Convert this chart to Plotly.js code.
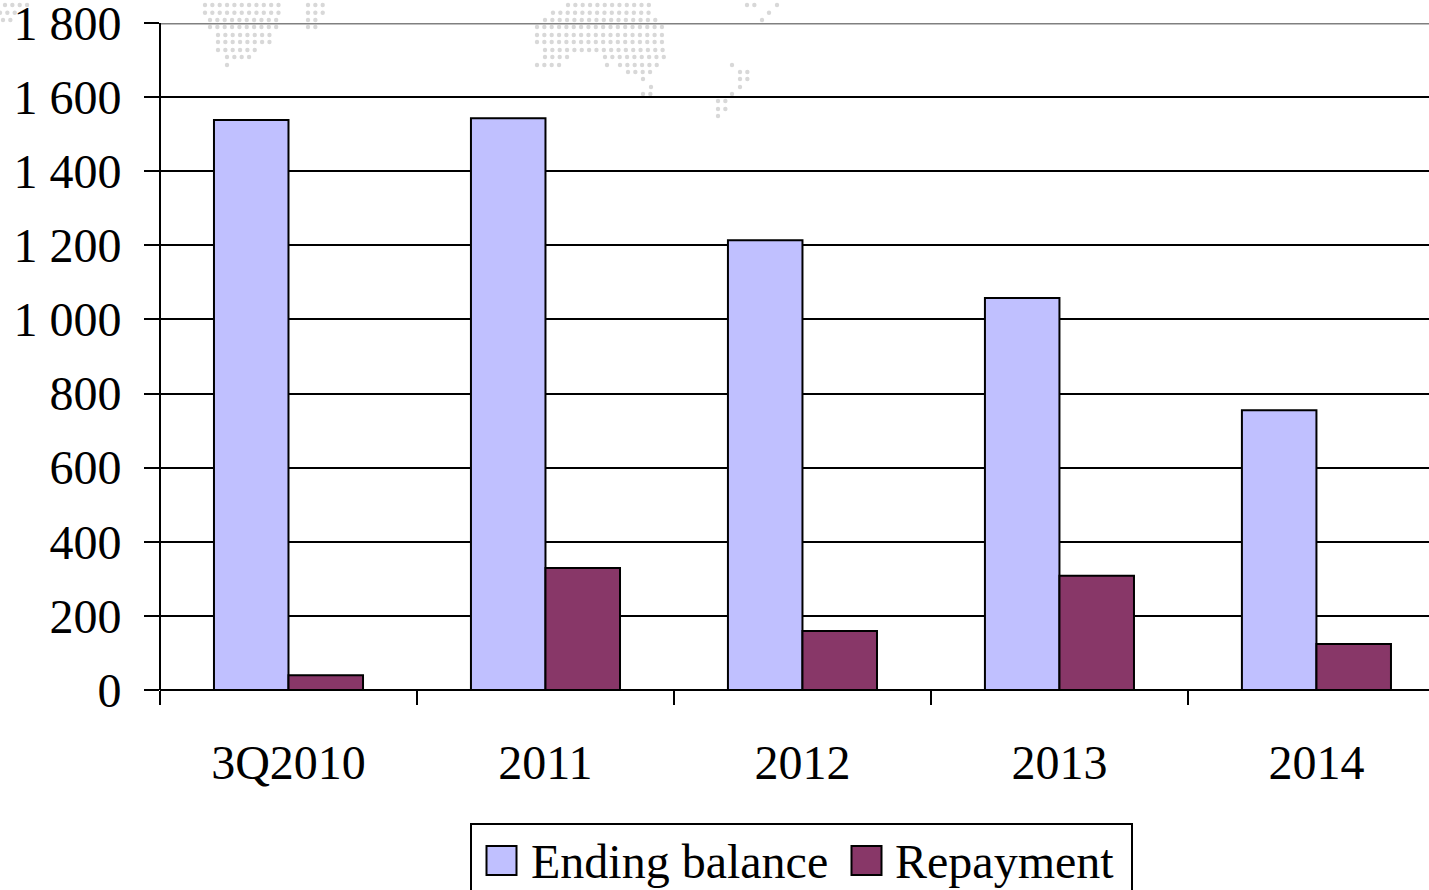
<!DOCTYPE html>
<html><head><meta charset="utf-8">
<script src="https://cdn.plot.ly/plotly-3.0.1.min.js"></script>
<style>html,body{margin:0;padding:0;background:#fff;overflow:hidden;width:1429px;height:890px}#c{width:1429px;height:930px}</style>
</head><body><div id="c"></div>
<script>
const categories = ["3Q2010","2011","2012","2013","2014"];
const endingBalance = [1538,1543,1214,1058,755];
const repayment = [40,329,159,308,124];
const yTicks = [0,200,400,600,800,1000,1200,1400,1600,1800];
const yTickLabels = ["0","200","400","600","800","1 000","1 200","1 400","1 600","1 800"];

// Decorative dotted world map behind the plot: [row y, x from, x to]
const mapRows = [
 [5,205,282],[12.7,205,282],[20,210,282],[27,210,282],[35,218,275],[42,218,275],[50,218,260],[57,227,252],[65,227,227],
 [5,308,325],[12.7,308,325],[20,308,318],[27,308,318],
 [5,568,653],[12.7,553,653],[20,545,660],[27,537,667],[35,537,667],[42,537,667],[50,545,667],
 [57,545,572],[57,605,667],[65,537,563],[65,607,607],[65,620,660],[72,628,652],[79,643,643],[87,651,651],[94,643,652],
 [5,747,755],[5,777,777],[12.7,769,769],[20,762,762],[65,732,732],[72,740,747],[79,740,747],[87,740,740],[94,732,732],
 [101,718,732],[109,718,725],[116,718,718],
 [5,5,30],[12.7,0,15],[20,3,15]
];
const dots = [];
mapRows.forEach(([y,a,b])=>{ for(let x=a;x<=b+0.5;x+=7.35) dots.push(`<circle cx="${x}" cy="${y}" r="2.2"/>`); });
const mapSvg = `<svg xmlns="http://www.w3.org/2000/svg" width="1429" height="890" viewBox="0 0 1429 890"><g fill="#d8d8d8">${dots.join("")}</g></svg>`;

const font = {family:"'Liberation Serif', serif", size:48, color:"#000"};
const traces = [
 {type:"bar", name:"Ending balance", x:categories, y:endingBalance,
  marker:{color:"#c0c0ff", line:{color:"#000", width:2}}},
 {type:"bar", name:"Repayment", x:categories, y:repayment,
  marker:{color:"#883768", line:{color:"#000", width:2}}}
];
const L=160,R=0,T=23,B=930-690,W=1429,H=930;
const layout = {
 width:W, height:H, margin:{l:L,r:R,t:T,b:B,autoexpand:false},
 paper_bgcolor:"#fff", plot_bgcolor:"rgba(0,0,0,0)", font,
 barmode:"group", bargap:0.42, bargroupgap:0,
 showlegend:true,
 legend:{orientation:"h", x:(470-L)/(W-L), xanchor:"left", y:(690-823)/667, yanchor:"top",
   bordercolor:"#000", borderwidth:1.6, bgcolor:"#fff", font, itemclick:false, itemdoubleclick:false},
 xaxis:{type:"category", categoryorder:"array", categoryarray:categories, range:[-0.5,4.438],
   tickson:"boundaries", ticks:"outside", ticklen:14, tickwidth:1.6, tickcolor:"#000",
   showline:false, showgrid:false, zeroline:false, fixedrange:true,
   tickfont:font, ticklabelstandoff:40},
 yaxis:{range:[0,1800], tickmode:"array", tickvals:yTicks, ticktext:yTickLabels,
   ticks:"outside", ticklen:15, tickwidth:1.6, tickcolor:"#000",
   showline:false, showgrid:true, gridcolor:"#000", gridwidth:1.6,
   zeroline:true, zerolinecolor:"#000", zerolinewidth:2, fixedrange:true,
   tickfont:font, ticklabelstandoff:13, ticklabeloverflow:"allow"},
 shapes:[
  {type:"line", xref:"paper", x0:0, x1:1, yref:"y", y0:1800, y1:1800, line:{color:"#808080", width:3}, layer:"above"},
  {type:"line", xref:"paper", x0:0, x1:0, yref:"y", y0:0, y1:1800, line:{color:"#000", width:2}, layer:"above"}
 ],
 images:[{source:"data:image/svg+xml;utf8,"+encodeURIComponent(mapSvg), xref:"paper", yref:"paper",
   x:-L/(W-L), y:690/667, sizex:W/(W-L), sizey:890/667, xanchor:"left", yanchor:"top", sizing:"stretch", layer:"below"}]
};
Plotly.newPlot("c", traces, layout, {displayModeBar:false}).then(()=>{
  // Tune the native legend to the reference's proportions
  const root = document.querySelector(".legend");
  root.querySelector(".bg").setAttribute("width", 661);
  root.querySelector(".scrollbox").removeAttribute("clip-path");
  root.removeAttribute("clip-path");
  const textX = [531, 895], symbolCx = [501.5, 866.5], textCy = 861, symbolCy = 860.5;
  root.querySelectorAll(".traces").forEach((tr,i)=>{
    const t = tr.querySelector("text"), pts = tr.querySelector(".legendpoints path");
    const tb = t.getBoundingClientRect();
    const m = /translate\(([-\d.]+)[ ,]+([-\d.]+)\)/.exec(tr.getAttribute("transform"));
    const nx = +m[1] + (textX[i]-tb.left), ny = +m[2] + (textCy-(tb.top+tb.height/2));
    tr.setAttribute("transform", `translate(${nx},${ny})`);
    pts.setAttribute("d","M15,14.5H-15V-14.5H15Z");
    const pb = pts.getBoundingClientRect();
    const dx = symbolCx[i]-(pb.left+pb.width/2), dy = symbolCy-(pb.top+pb.height/2);
    pts.setAttribute("transform", (pts.getAttribute("transform")||"")+` translate(${dx},${dy})`);
  });
});
</script></body></html>
